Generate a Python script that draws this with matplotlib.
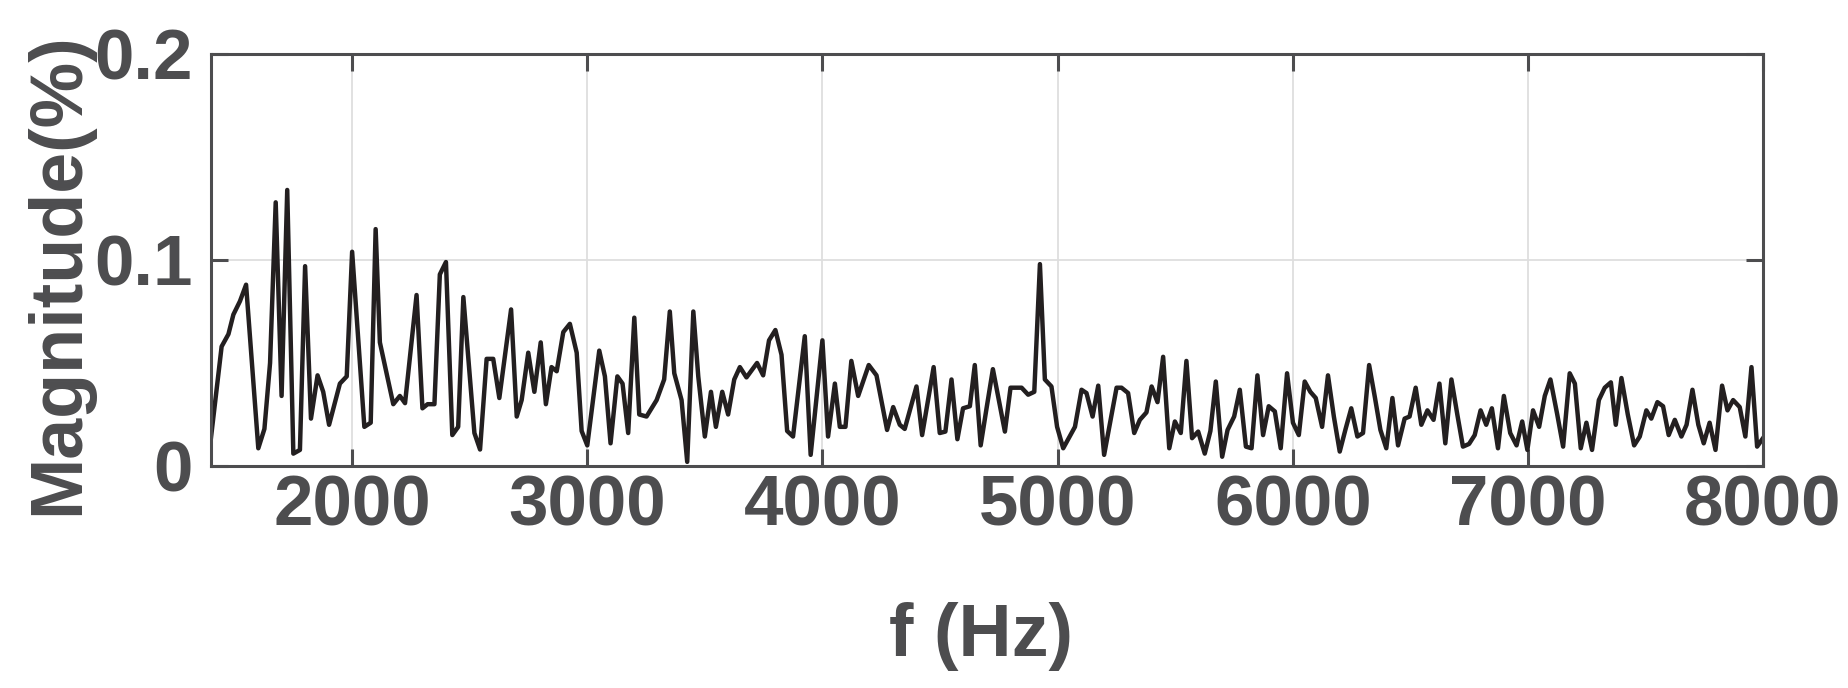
import matplotlib.pyplot as plt

# Spectrum
freq = [1400, 1445, 1474, 1495, 1523, 1549, 1601, 1627, 1651, 1675, 1700, 1724, 1750, 1778,
        1800, 1825, 1853, 1877, 1902, 1948, 1977, 2000, 2052, 2079, 2100, 2118, 2175, 2203,
        2225, 2274, 2299, 2321, 2350, 2373, 2399, 2426, 2451, 2473, 2520, 2544, 2572, 2600,
        2626, 2676, 2700, 2721, 2749, 2775, 2802, 2824, 2848, 2870, 2898, 2926, 2955, 2976,
        3000, 3051, 3075, 3099, 3128, 3150, 3174, 3200, 3221, 3252, 3295, 3327, 3351, 3370,
        3401, 3425, 3451, 3472, 3500, 3526, 3547, 3574, 3599, 3625, 3649, 3677, 3722, 3748,
        3773, 3800, 3826, 3850, 3875, 3925, 3950, 3975, 4000, 4024, 4053, 4074, 4098, 4123,
        4152, 4197, 4230, 4275, 4301, 4329, 4350, 4400, 4424, 4473, 4499, 4523, 4549, 4574,
        4598, 4627, 4648, 4673, 4698, 4725, 4776, 4800, 4847, 4875, 4901, 4925, 4946, 4974,
        4998, 5024, 5050, 5074, 5102, 5123, 5149, 5173, 5198, 5251, 5272, 5300, 5326, 5350,
        5378, 5400, 5425, 5449, 5475, 5499, 5524, 5548, 5572, 5598, 5626, 5650, 5673, 5700,
        5723, 5751, 5775, 5801, 5825, 5850, 5874, 5898, 5924, 5949, 5976, 6001, 6026, 6051,
        6075, 6098, 6125, 6150, 6175, 6200, 6225, 6249, 6275, 6299, 6325, 6350, 6373, 6398,
        6424, 6448, 6476, 6497, 6523, 6547, 6573, 6599, 6624, 6649, 6675, 6700, 6724, 6750,
        6774, 6799, 6823, 6847, 6873, 6898, 6925, 6952, 6976, 6998, 7022, 7048, 7072, 7096,
        7125, 7150, 7178, 7200, 7225, 7249, 7273, 7302, 7327, 7353, 7374, 7398, 7425, 7452,
        7476, 7504, 7525, 7551, 7575, 7599, 7625, 7653, 7675, 7700, 7725, 7748, 7773, 7798,
        7826, 7849, 7873, 7901, 7925, 7951, 7975, 8000]
mag = [0.014, 0.058, 0.064, 0.0735, 0.080, 0.088, 0.0086, 0.018, 0.050, 0.128, 0.034, 0.134,
       0.006, 0.0078, 0.097, 0.023, 0.044, 0.036, 0.020, 0.040, 0.0435, 0.104, 0.019, 0.021,
       0.115, 0.060, 0.030, 0.034, 0.0305, 0.083, 0.028, 0.030, 0.030, 0.093, 0.099, 0.015,
       0.019, 0.082, 0.016, 0.008, 0.052, 0.052, 0.033, 0.076, 0.024, 0.032, 0.055, 0.036,
       0.060, 0.030, 0.048, 0.046, 0.065, 0.069, 0.055, 0.017, 0.010, 0.056, 0.0435, 0.011,
       0.0435, 0.040, 0.016, 0.072, 0.025, 0.024, 0.032, 0.042, 0.075, 0.045, 0.032, 0.002,
       0.075, 0.0435, 0.0143, 0.036, 0.019, 0.036, 0.025, 0.042, 0.048, 0.043, 0.050, 0.044,
       0.061, 0.066, 0.054, 0.017, 0.0143, 0.063, 0.0054, 0.033, 0.061, 0.0143, 0.040, 0.019,
       0.019, 0.051, 0.034, 0.049, 0.044, 0.0175, 0.0286, 0.020, 0.018, 0.0386, 0.015, 0.048,
       0.016, 0.0167, 0.042, 0.013, 0.028, 0.029, 0.049, 0.010, 0.028, 0.047, 0.0167, 0.038,
       0.038, 0.0346, 0.036, 0.098, 0.042, 0.0386, 0.019, 0.0086, 0.014, 0.019, 0.037, 0.0354,
       0.024, 0.039, 0.0054, 0.038, 0.038, 0.0354, 0.016, 0.0224, 0.026, 0.0386, 0.031, 0.053,
       0.0086, 0.0216, 0.016, 0.051, 0.0135, 0.0167, 0.006, 0.017, 0.041, 0.0045, 0.0175, 0.024,
       0.037, 0.0094, 0.0086, 0.044, 0.015, 0.029, 0.0265, 0.0086, 0.045, 0.021, 0.015, 0.041,
       0.036, 0.033, 0.019, 0.044, 0.024, 0.007, 0.018, 0.028, 0.0143, 0.016, 0.049, 0.033,
       0.0175, 0.0086, 0.033, 0.010, 0.023, 0.024, 0.038, 0.020, 0.027, 0.0224, 0.040, 0.011,
       0.042, 0.025, 0.0094, 0.0107, 0.015, 0.027, 0.020, 0.028, 0.0086, 0.034, 0.016, 0.010,
       0.0216, 0.0078, 0.027, 0.019, 0.034, 0.042, 0.025, 0.0094, 0.045, 0.040, 0.0086, 0.021,
       0.0078, 0.032, 0.038, 0.0406, 0.020, 0.0427, 0.025, 0.010, 0.0143, 0.027, 0.023, 0.031,
       0.029, 0.015, 0.0224, 0.0143, 0.020, 0.037, 0.020, 0.011, 0.021, 0.0078, 0.039, 0.027,
       0.032, 0.0286, 0.0143, 0.048, 0.0094, 0.0135]

xticks = [2000, 3000, 4000, 5000, 6000, 7000, 8000]
yticks = [0, 0.1, 0.2]
ytick_labels = ['0', '0.1', '0.2']

gray = '#4d4d4f'
plt.rcParams['font.family'] = ['Liberation Sans', 'DejaVu Sans']
plt.rcParams['font.weight'] = 'bold'

fig = plt.figure(figsize=(18.48, 6.88), dpi=100)
ax = fig.add_axes([0.1142, 0.3227, 0.8398, 0.5988])

ax.plot(freq, mag, color='#231f20', linewidth=3.2)

ax.set_xlim(1400, 8000)
ax.set_ylim(0, 0.2)
ax.set_xticks(xticks)
ax.set_yticks(yticks)
ax.set_yticklabels(ytick_labels)
ax.grid(True, color='#dedede', linewidth=1.3)
ax.set_axisbelow(True)

for s in ax.spines.values():
    s.set_color(gray)
    s.set_linewidth(2.2)
ax.tick_params(direction='in', length=12, width=2.2, color=gray, labelcolor=gray,
               labelsize=51, top=True, right=True)
ax.tick_params(axis='x', pad=6)
ax.tick_params(axis='y', pad=13)

ax.set_xlabel('f (Hz)', fontsize=53, fontweight='bold', color=gray, va='center')
ax.set_ylabel('Magnitude(%)', fontsize=53, fontweight='bold', color=gray, va='center')
ax.xaxis.set_label_coords(0.496, -0.413)
ax.yaxis.set_label_coords(-0.098, 0.468)

fig.savefig('out.png', dpi=100)
